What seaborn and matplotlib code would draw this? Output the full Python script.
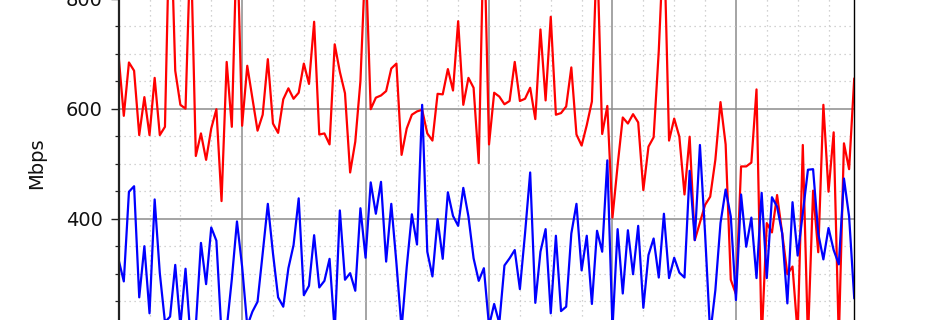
import numpy as np
import pandas as pd
import matplotlib
matplotlib.use("Agg")
import matplotlib.pyplot as plt
from matplotlib.ticker import MultipleLocator
import seaborn as sns

# ---- data (hourly samples) ----
series_red = [695, 587, 684, 669, 552, 621, 552, 656, 552, 567,
              990, 669, 607, 600, 910, 514, 555, 507, 564, 599,
              432, 685, 567, 920, 569, 678, 619, 560, 589, 690,
              573, 556, 617, 637, 618, 629, 682, 645, 758, 553,
              555, 535, 717, 667, 628, 484, 540, 650, 880, 599,
              620, 624, 632, 673, 682, 516, 564, 589, 595, 598,
              555, 542, 627, 626, 672, 633, 759, 607, 656, 638,
              501, 940, 535, 629, 622, 608, 614, 685, 614, 618,
              638, 581, 744, 615, 767, 589, 592, 604, 675, 553,
              533, 570, 613, 895, 554, 605, 402, 497, 584, 573,
              590, 575, 452, 531, 548, 705, 920, 542, 582, 549,
              444, 549, 361, 393, 425, 440, 507, 612, 535, 289,
              263, 495, 495, 502, 635, 180, 392, 375, 443, 373,
              299, 313, 190, 534, 180, 451, 339, 607, 449, 557,
              180, 537, 490, 655]

series_blue = [325, 286, 449, 459, 257, 350, 228, 435, 301, 212,
               222, 316, 205, 309, 180, 205, 356, 281, 384, 360,
               190, 200, 290, 395, 313, 205, 231, 249, 337, 427,
               337, 257, 240, 310, 352, 437, 261, 278, 370, 275,
               287, 327, 195, 415, 289, 301, 269, 419, 329, 466,
               409, 467, 322, 427, 319, 200, 312, 408, 353, 607,
               340, 295, 399, 327, 448, 405, 387, 456, 404, 328,
               287, 310, 205, 245, 210, 315, 328, 343, 272, 373,
               484, 247, 340, 381, 228, 369, 232, 240, 373, 427,
               306, 369, 245, 378, 340, 506, 200, 381, 264, 379,
               299, 387, 238, 334, 364, 293, 409, 292, 329, 302,
               293, 487, 361, 534, 373, 190, 270, 392, 453, 404,
               252, 444, 349, 402, 292, 447, 292, 439, 422, 373,
               246, 430, 333, 410, 489, 490, 373, 326, 383, 343,
               317, 473, 404, 255]

hours = list(range(len(series_red)))

df = pd.DataFrame({"hour": hours, "red": series_red, "blue": series_blue})

sns.set_style("white")
plt.rcParams["font.family"] = ["DejaVu Sans"]

fig = plt.figure(figsize=(9.5, 3.2), dpi=100)
# the visible picture is a crop of a taller chart
ax = fig.add_axes([0.1249, -0.371, 0.7743, 1.719])

sns.lineplot(data=df, x="hour", y="red", color="#ff0000", linewidth=1.6, ax=ax)
sns.lineplot(data=df, x="hour", y="blue", color="#0000ff", linewidth=1.6, ax=ax)

ax.set_xlim(0, 143)
ax.set_ylim(0, 1000)

ax.xaxis.set_major_locator(MultipleLocator(24))
ax.xaxis.set_minor_locator(MultipleLocator(6))
ax.yaxis.set_major_locator(MultipleLocator(200))
ax.yaxis.set_minor_locator(MultipleLocator(50))

ax.set_axisbelow(True)
ax.grid(which="major", color="#8c8c8c", linewidth=1.1, linestyle="-")
ax.grid(which="minor", color="#c4c4c4", linewidth=0.9, linestyle=(0, (1, 3)))

ax.tick_params(axis="y", which="major", length=5.5, width=1.0, pad=6,
               labelsize=14, colors="#222222", labelcolor="#111111", left=True)
ax.tick_params(axis="y", which="minor", length=3, width=0.9, colors="#222222", left=True)
# x tick labels fall below the visible crop in the reference
ax.tick_params(axis="x", which="both", labelbottom=False)

for side in ["left"]:
    ax.spines[side].set_linewidth(1.6)
    ax.spines[side].set_color("#222222")
for side in ["right", "top", "bottom"]:
    ax.spines[side].set_linewidth(1.0)
    ax.spines[side].set_color("#000000")

ax.set_xlabel("")
ax.set_ylabel("Mbps", fontsize=14, color="#111111")
ax.yaxis.set_label_coords(-0.0988, 0.5)

fig.savefig("out.png", dpi=100)
